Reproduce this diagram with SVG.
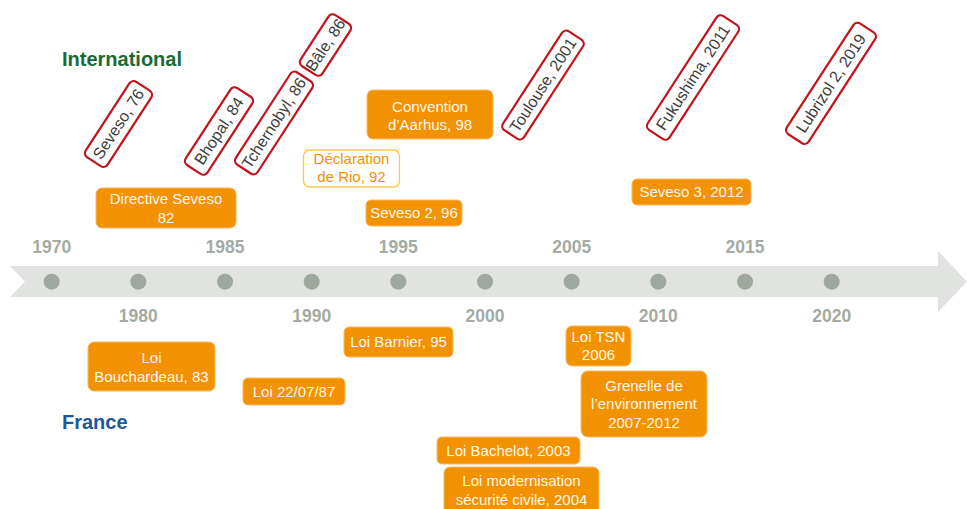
<svg xmlns="http://www.w3.org/2000/svg" width="967" height="509" viewBox="0 0 967 509">
<style>
.ob{fill:#f39200;stroke:#f7b860;stroke-width:1}
.ot{font-family:"Liberation Sans",Arial,sans-serif;font-size:15px;fill:#fff8ec;text-anchor:middle}
.rb{fill:#fff;stroke:#c4121c;stroke-width:2.2}
.rt{font-family:"Liberation Sans",Arial,sans-serif;font-size:16px;fill:#3c3c3c;text-anchor:middle}
.yr{font-family:"Liberation Sans",Arial,sans-serif;font-size:17.5px;font-weight:bold;fill:#a3aba3;text-anchor:middle}
.dot{fill:#9fa89f}
.hd{font-family:"Liberation Sans",Arial,sans-serif;font-size:20px;font-weight:bold}
</style>
<rect width="967" height="509" fill="#fff"/>
<g id="timeline">
<polygon points="10,266 938,266 938,251 967,281.5 938,312 938,297 10,297 25,281.5" fill="#e1e3e0"/>
<circle class="dot" cx="51.7" cy="281.7" r="8"/>
<circle class="dot" cx="138.3" cy="281.7" r="8"/>
<circle class="dot" cx="225" cy="281.7" r="8"/>
<circle class="dot" cx="311.7" cy="281.7" r="8"/>
<circle class="dot" cx="398.3" cy="281.7" r="8"/>
<circle class="dot" cx="485" cy="281.7" r="8"/>
<circle class="dot" cx="571.7" cy="281.7" r="8"/>
<circle class="dot" cx="658.3" cy="281.7" r="8"/>
<circle class="dot" cx="745" cy="281.7" r="8"/>
<circle class="dot" cx="831.7" cy="281.7" r="8"/>
<text class="yr" x="51.7" y="252.5">1970</text>
<text class="yr" x="225" y="252.5">1985</text>
<text class="yr" x="398.3" y="252.5">1995</text>
<text class="yr" x="571.7" y="252.5">2005</text>
<text class="yr" x="745" y="252.5">2015</text>
<text class="yr" x="138.3" y="322">1980</text>
<text class="yr" x="311.7" y="322">1990</text>
<text class="yr" x="485" y="322">2000</text>
<text class="yr" x="658.3" y="322">2010</text>
<text class="yr" x="831.7" y="322">2020</text>
</g>
<g id="titles">
<text class="hd" x="62" y="66" fill="#1b6a36">International</text>
<text class="hd" x="62" y="429" fill="#1c5a97">France</text>
</g>
<g id="connectors"></g>
<g id="n-seveso76" transform="translate(118.5,124) rotate(-57)"><rect class="rb" x="-45" y="-13" width="90" height="26" rx="5"/><text class="rt" y="5.5">Seveso, 76</text></g>
<g id="n-bhopal84" transform="translate(219,131) rotate(-57)"><rect class="rb" x="-46" y="-13" width="92" height="26" rx="5"/><text class="rt" y="5.5">Bhopal, 84</text></g>
<g id="n-tchernobyl86" transform="translate(274,123) rotate(-57)"><rect class="rb" x="-55" y="-13" width="110" height="26" rx="5"/><text class="rt" y="5.5">Tchernobyl, 86</text></g>
<g id="n-bale86" transform="translate(325.5,45) rotate(-57)"><rect class="rb" x="-30.5" y="-13" width="61" height="26" rx="5"/><text class="rt" y="5.5">Bâle, 86</text></g>
<g id="n-toulouse2001" transform="translate(543,85) rotate(-57)"><rect class="rb" x="-59" y="-12.5" width="118" height="25" rx="5"/><text class="rt" y="5.5">Toulouse, 2001</text></g>
<g id="n-fukushima2011" transform="translate(693,77.5) rotate(-57)"><rect class="rb" x="-68" y="-13" width="136" height="26" rx="5"/><text class="rt" y="5.5">Fukushima, 2011</text></g>
<g id="n-lubrizol2019" transform="translate(831,83.3) rotate(-57)"><rect class="rb" x="-66" y="-13" width="132" height="26" rx="5"/><text class="rt" y="5.5">Lubrizol 2, 2019</text></g>
<g id="n-directive82"><rect class="ob" x="96" y="188" width="140" height="40" rx="6"/><text class="ot" x="166" y="204">Directive Seveso</text><text class="ot" x="166" y="223">82</text></g>
<g id="n-aarhus98"><rect class="ob" x="367" y="90" width="126" height="49" rx="6"/><text class="ot" x="430" y="112">Convention</text><text class="ot" x="430" y="130">d’Aarhus, 98</text></g>
<g id="n-rio92"><rect x="303.5" y="150" width="96" height="37" rx="6" fill="#fff" stroke="#fcc650" stroke-width="1.3"/><text class="ot" x="351.5" y="164" style="fill:#f39200">Déclaration</text><text class="ot" x="351.5" y="182" style="fill:#f39200">de Rio, 92</text></g>
<g id="n-seveso2"><rect class="ob" x="366" y="200" width="96" height="26" rx="5"/><text class="ot" x="414" y="218">Seveso 2, 96</text></g>
<g id="n-seveso3"><rect class="ob" x="632" y="179" width="119" height="26" rx="5"/><text class="ot" x="691.5" y="197">Seveso 3, 2012</text></g>
<g id="n-bouchardeau83"><rect class="ob" x="88" y="342" width="127" height="49" rx="6"/><text class="ot" x="151.5" y="363">Loi</text><text class="ot" x="151.5" y="382">Bouchardeau, 83</text></g>
<g id="n-loi87"><rect class="ob" x="243" y="378" width="102" height="27" rx="5"/><text class="ot" x="294" y="397">Loi 22/07/87</text></g>
<g id="n-barnier95"><rect class="ob" x="344" y="327" width="109" height="30" rx="5"/><text class="ot" x="398.5" y="347">Loi Barnier, 95</text></g>
<g id="n-tsn2006"><rect class="ob" x="566" y="326" width="65" height="40" rx="6"/><text class="ot" x="598.5" y="342">Loi TSN</text><text class="ot" x="598.5" y="360">2006</text></g>
<g id="n-grenelle"><rect class="ob" x="581" y="371" width="126" height="66" rx="7"/><text class="ot" x="644" y="391">Grenelle de</text><text class="ot" x="644" y="409">l’environnement</text><text class="ot" x="644" y="428">2007-2012</text></g>
<g id="n-bachelot2003"><rect class="ob" x="437" y="437" width="143" height="27" rx="5"/><text class="ot" x="508.5" y="456">Loi Bachelot, 2003</text></g>
<g id="n-modernisation2004"><rect class="ob" x="444" y="467" width="155" height="50" rx="6"/><text class="ot" x="521.5" y="486">Loi modernisation</text><text class="ot" x="521.5" y="505">sécurité civile, 2004</text></g>
</svg>
